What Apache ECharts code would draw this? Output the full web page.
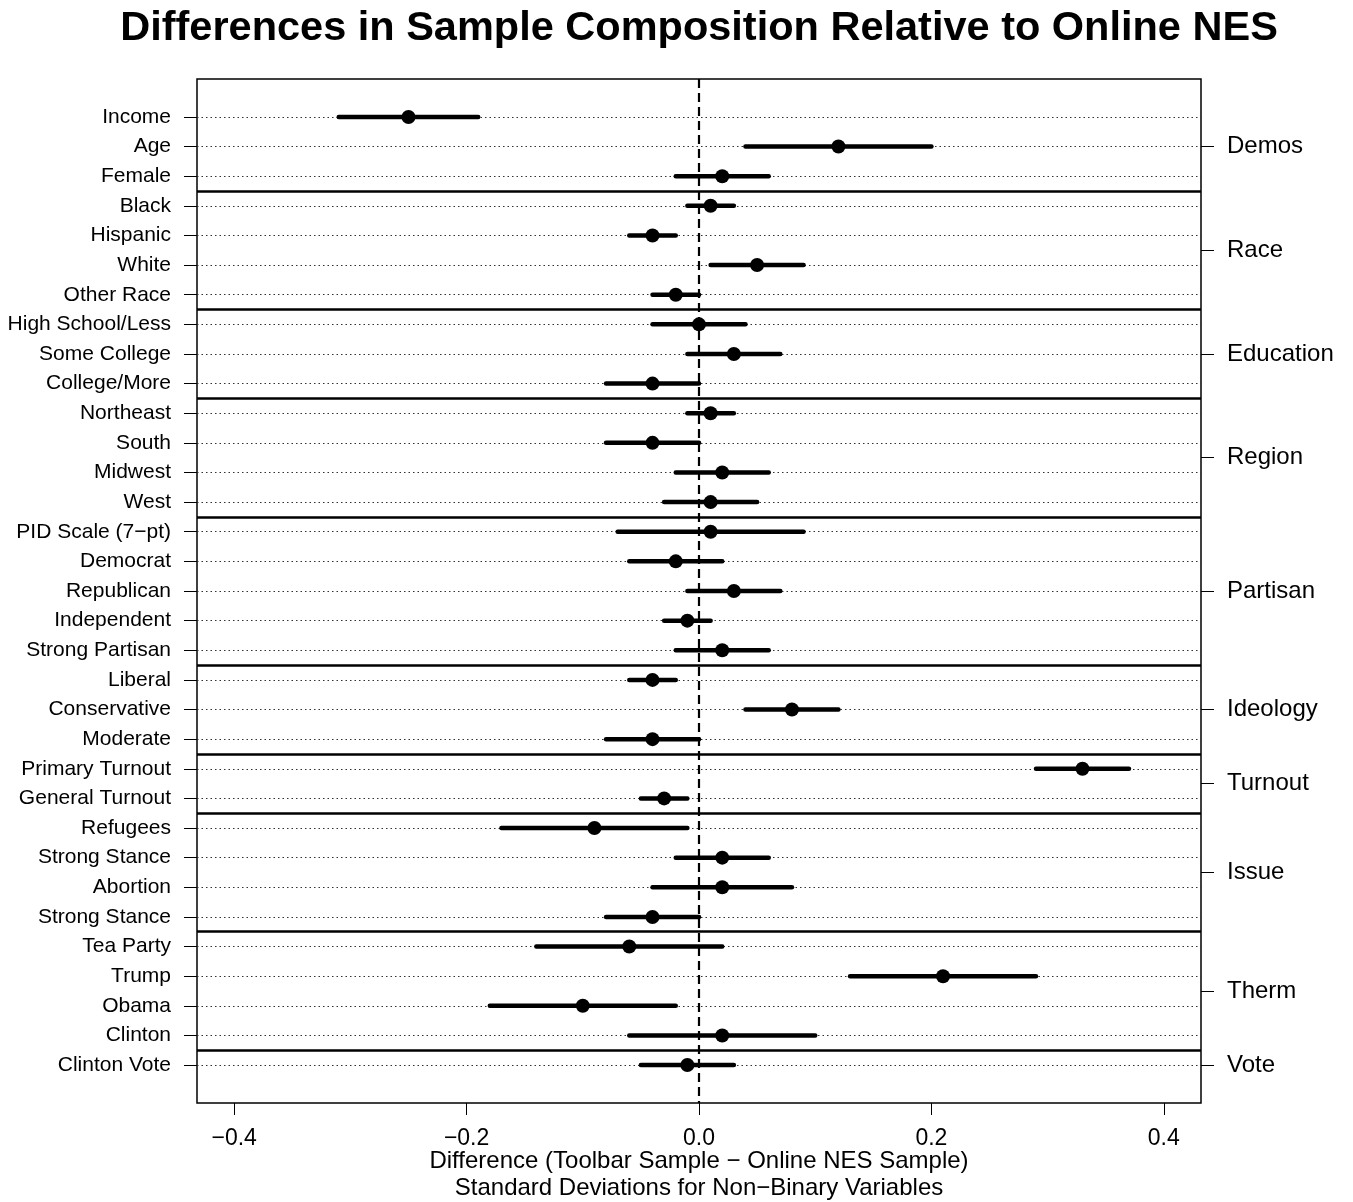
<!DOCTYPE html>
<html>
<head>
<meta charset="utf-8">
<script src="https://cdn.jsdelivr.net/npm/echarts@6/dist/echarts.min.js"></script>
<style>
  html, body {margin: 0; padding: 0; background: #fff;}
  #chart {width: 1353px; height: 1202px;}
</style>
</head>
<body>
<div id="chart"></div>
<script>
// row labels, top to bottom
const labels = ['Income', 'Age', 'Female', 'Black', 'Hispanic', 'White', 'Other Race',
  'High School/Less', 'Some College', 'College/More', 'Northeast', 'South', 'Midwest', 'West',
  'PID Scale (7\u2212pt)', 'Democrat', 'Republican', 'Independent', 'Strong Partisan',
  'Liberal', 'Conservative', 'Moderate', 'Primary Turnout', 'General Turnout',
  'Refugees', 'Strong Stance', 'Abortion', 'Strong Stance',
  'Tea Party', 'Trump', 'Obama', 'Clinton', 'Clinton Vote'];

const estimates = [-0.25, 0.12, 0.02, 0.01, -0.04, 0.05, -0.02, 0.00, 0.03, -0.04, 0.01, -0.04, 0.02, 0.01,
  0.01, -0.02, 0.03, -0.01, 0.02, -0.04, 0.08, -0.04, 0.33, -0.03, -0.09, 0.02, 0.02, -0.04,
  -0.06, 0.21, -0.10, 0.02, -0.01];
const lower = [-0.31, 0.04, -0.02, -0.01, -0.06, 0.01, -0.04, -0.04, -0.01, -0.08, -0.01, -0.08, -0.02, -0.03,
  -0.07, -0.06, -0.01, -0.03, -0.02, -0.06, 0.04, -0.08, 0.29, -0.05, -0.17, -0.02, -0.04, -0.08,
  -0.14, 0.13, -0.18, -0.06, -0.05];
const upper = [-0.19, 0.20, 0.06, 0.03, -0.02, 0.09, 0.00, 0.04, 0.07, 0.00, 0.03, 0.00, 0.06, 0.05,
  0.09, 0.02, 0.07, 0.01, 0.06, -0.02, 0.12, 0.00, 0.37, -0.01, -0.01, 0.06, 0.08, 0.00,
  0.02, 0.29, -0.02, 0.10, 0.03];

const groups = ['Demos', 'Race', 'Education', 'Region', 'Partisan', 'Ideology', 'Turnout', 'Issue', 'Therm', 'Vote'];
const groupSizes = [3, 4, 3, 4, 5, 3, 2, 4, 4, 1];

const xTicks = [-0.4, -0.2, 0, 0.2, 0.4];

const FONT = '"Liberation Sans", Arial, Helvetica, sans-serif';

// row positions 1..n, group centres and separators
const rows = labels.map((d, i) => i + 1);
const groupCenters = [];
const separators = [];
let start = 1;
groupSizes.forEach((n, i) => {
  groupCenters.push(start + (n - 1) / 2);
  if (i < groupSizes.length - 1) separators.push(start + n - 0.5);
  start += n;
});

const chart = echarts.init(document.getElementById('chart'));

const yBase = {
  type: 'value',
  min: -0.28,
  max: labels.length + 1.28,
  inverse: true,
  axisLine: {show: false, onZero: false},
  splitLine: {show: false}
};

chart.setOption({
  animation: false,
  grid: {
    left: 197, right: 152, top: 79, bottom: 99,
    show: true, borderColor: '#000', borderWidth: 1.5, backgroundColor: 'transparent'
  },
  graphic: [
    {type: 'text', x: 699, y: 29, style: {text: 'Differences in Sample Composition Relative to Online NES',
      font: 'bold 41.5px ' + FONT, fill: '#000', textAlign: 'center', textVerticalAlign: 'middle'}},
    {type: 'text', x: 699, y: 1161, style: {text: 'Difference (Toolbar Sample \u2212 Online NES Sample)',
      font: '24px ' + FONT, fill: '#000', textAlign: 'center', textVerticalAlign: 'middle'}},
    {type: 'text', x: 699, y: 1188, style: {text: 'Standard Deviations for Non\u2212Binary Variables',
      font: '24px ' + FONT, fill: '#000', textAlign: 'center', textVerticalAlign: 'middle'}}
  ],
  xAxis: {
    type: 'value',
    position: 'bottom',
    min: -0.432,
    max: 0.432,
    axisLine: {show: false, onZero: false},
    splitLine: {show: false},
    axisTick: {show: true, customValues: xTicks, length: 12, lineStyle: {color: '#000', width: 1}},
    axisLabel: {
      customValues: xTicks, margin: 24, color: '#000', fontSize: 23, fontFamily: FONT,
      formatter: v => v.toFixed(1).replace('-', '\u2212')
    }
  },
  yAxis: [
    Object.assign({}, yBase, {
      position: 'left',
      axisTick: {show: true, customValues: rows, length: 13, lineStyle: {color: '#000', width: 1}},
      axisLabel: {
        customValues: rows, margin: 26, color: '#000', fontSize: 21, fontFamily: FONT,
        formatter: v => labels[Math.round(v) - 1]
      }
    }),
    Object.assign({}, yBase, {
      position: 'right',
      axisTick: {show: true, customValues: groupCenters, length: 13, lineStyle: {color: '#000', width: 1}},
      axisLabel: {
        customValues: groupCenters, margin: 26, color: '#000', fontSize: 24, fontFamily: FONT,
        formatter: v => groups[groupCenters.indexOf(v)]
      }
    })
  ],
  series: [
    {
      // dotted guide lines and group separators
      type: 'line',
      data: [],
      silent: true,
      z: 1,
      markLine: {
        z: 1,
        silent: true,
        symbol: 'none',
        animation: false,
        label: {show: false},
        data: rows.map(r => ({yAxis: r, lineStyle: {color: '#333', width: 1, type: [1.5, 3]}}))
          .concat(separators.map(s => ({yAxis: s, lineStyle: {color: '#000', width: 2.5, type: 'solid'}})))
      }
    },
    {
      type: 'line',
      data: [],
      silent: true,
      z: 2,
      markLine: {
        z: 2,
        silent: true,
        symbol: 'none',
        animation: false,
        label: {show: false},
        data: [{xAxis: 0}],
        lineStyle: {color: '#000', width: 2.2, type: [9, 5]}
      }
    },
    {
      // confidence intervals
      type: 'custom',
      z: 10,
      data: rows.map((r, i) => [r, lower[i], upper[i]]),
      encode: {x: [1, 2], y: 0},
      renderItem: (params, api) => {
        const a = api.coord([api.value(1), api.value(0)]);
        const b = api.coord([api.value(2), api.value(0)]);
        return {
          type: 'line',
          shape: {x1: a[0], y1: a[1], x2: b[0], y2: b[1]},
          style: {stroke: '#000', lineWidth: 4.5, lineCap: 'round'}
        };
      }
    },
    {
      type: 'scatter',
      z: 11,
      symbol: 'circle',
      symbolSize: 14,
      itemStyle: {color: '#000', opacity: 1},
      data: rows.map((r, i) => [estimates[i], r])
    }
  ]
});
</script>
</body>
</html>
